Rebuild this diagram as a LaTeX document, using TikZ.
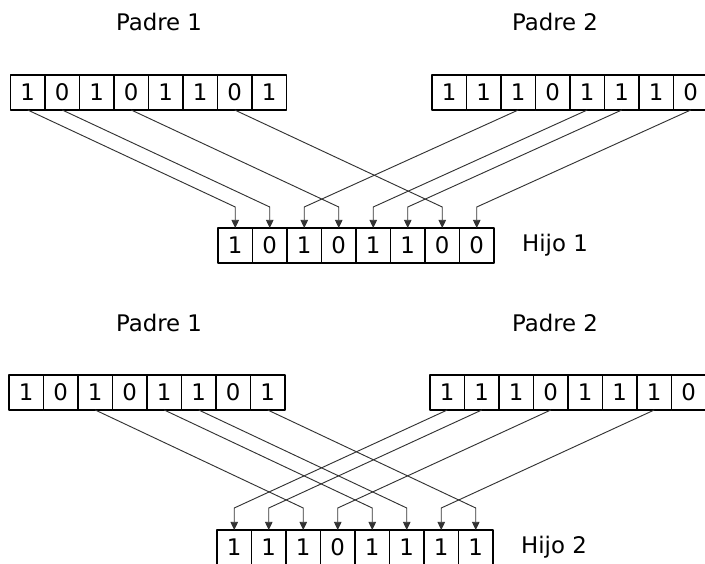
\documentclass[tikz,border=0pt]{standalone}
\usepackage{fontspec}
\setmainfont{DejaVu Sans}
\usetikzlibrary{arrows.meta}

\tikzset{
  bit/.style={draw, line width=1.4pt, minimum width=1.035cm, minimum height=1.05cm,
    inner sep=0pt, outer sep=0pt, font=\fontsize{19.5}{22}\selectfont},
  lbl/.style={font=\fontsize{19.5}{22}\selectfont},
  link/.style={->, line width=0.8pt, black!80},
}

\begin{document}
\begin{tikzpicture}[x=0.03cm, y=-0.03cm, line join=round, >={Triangle[length=7pt,width=6.5pt]}]
		\useasboundingbox (0,0) rectangle (705,563);

		% first crossover: parents and child
		\node[lbl] (padre1a) at (159,22) {Padre 1};
		\node[lbl] (padre2a) at (555,22) {Padre 2};
		\foreach \b [count=\i] in {1,0,1,0,1,1,0,1}
			\node[bit] (pa\i) at ({10.5+34.5*(\i-0.5)},92.5) {\b};
		\foreach \b [count=\i] in {1,1,1,0,1,1,1,0}
			\node[bit] (qa\i) at ({432+34.5*(\i-0.5)},92.5) {\b};
		\foreach \b [count=\i] in {1,0,1,0,1,1,0,0}
			\node[bit] (ha\i) at ({218+34.5*(\i-0.5)},245.5) {\b};
		\node[lbl, anchor=west] (hijo1) at (518,245) {Hijo 1};
		\coordinate (kneeA) at (0,207);

		\foreach \i in {1,2,4,7}
			\draw[link] (pa\i.south) -- (ha\i |- kneeA) -- (ha\i.north);
		\foreach \i in {3,5,6,8}
			\draw[link] (qa\i.south) -- (ha\i |- kneeA) -- (ha\i.north);

		% second crossover: same parents, other child
		\node[lbl] (padre1b) at (159,323) {Padre 1};
		\node[lbl] (padre2b) at (555,323) {Padre 2};
		\foreach \b [count=\i] in {1,0,1,0,1,1,0,1}
			\node[bit] (pb\i) at ({9+34.5*(\i-0.5)},392.5) {\b};
		\foreach \b [count=\i] in {1,1,1,0,1,1,1,0}
			\node[bit] (qb\i) at ({430+34.5*(\i-0.5)},392.5) {\b};
		\foreach \b [count=\i] in {1,1,1,0,1,1,1,1}
			\node[bit] (hb\i) at ({217+34.5*(\i-0.5)},547.5) {\b};
		\node[lbl, anchor=west] (hijo2) at (517,547) {Hijo 2};
		\coordinate (kneeB) at (0,508);

		\foreach \i in {3,5,6,8}
			\draw[link] (pb\i.south) -- (hb\i |- kneeB) -- (hb\i.north);
		\foreach \i in {1,2,4,7}
			\draw[link] (qb\i.south) -- (hb\i |- kneeB) -- (hb\i.north);
\end{tikzpicture}
\end{document}
